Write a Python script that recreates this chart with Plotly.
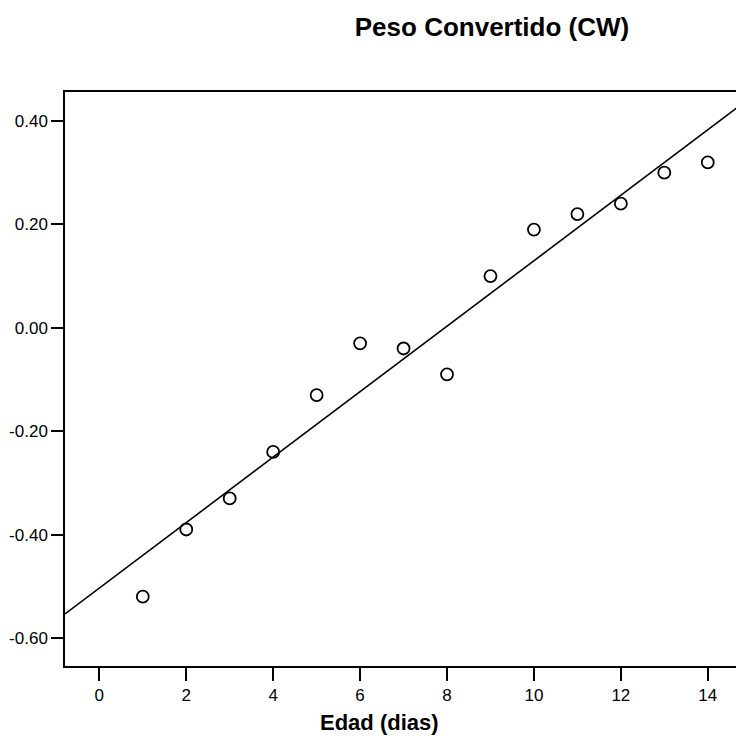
import numpy as np
import plotly.graph_objects as go

edad = [1, 2, 3, 4, 5, 6, 7, 8, 9, 10, 11, 12, 13, 14]
peso_cw = [-0.52, -0.39, -0.33, -0.24, -0.13, -0.03, -0.04, -0.09, 0.10, 0.19, 0.22, 0.24, 0.30, 0.32]
x_ticks = [0, 2, 4, 6, 8, 10, 12, 14]
y_ticks = [-0.60, -0.40, -0.20, 0.00, 0.20, 0.40]
y_tick_labels = ["-0.60", "-0.40", "-0.20", "0.00", "0.20", "0.40"]

# figure slightly wider than the window so the (cut-off) right frame edge stays hidden
W, H = 740, 747
ml, mr, mt, mb = 65, 0, 92, 747 - 666
pw, ph = W - ml - mr, H - mt - mb

x_range = [-0.79, -0.79 + pw / 43.46]
y_range = [-0.654, 0.456]

slope, intercept = np.polyfit(edad, peso_cw, 1)
fit_x = np.array(x_range)
fit_y = slope * fit_x + intercept

fig = go.Figure()
fig.add_trace(go.Scatter(
    x=fit_x, y=fit_y, mode="lines",
    line=dict(color="black", width=1.6),
    hoverinfo="skip", showlegend=False,
))
fig.add_trace(go.Scatter(
    x=edad, y=peso_cw, mode="markers",
    marker=dict(symbol="circle-open", size=12, color="black", line=dict(width=1.8, color="black")),
    showlegend=False,
))

font = "Liberation Sans, Arial, sans-serif"
fig.update_layout(
    width=W, height=H,
    margin=dict(l=ml, r=mr, t=mt, b=mb, autoexpand=False),
    paper_bgcolor="white", plot_bgcolor="white",
    font=dict(family=font, color="black", size=17),
    title=dict(text="<b>Peso Convertido (CW)</b>", xref="container", yref="container",
               x=492 / W, y=1 - 27 / H, xanchor="center", yanchor="middle",
               font=dict(family=font, size=26, color="black")),
    xaxis=dict(range=x_range, tickvals=x_ticks, ticks="outside", ticklen=13, tickwidth=2,
               tickcolor="black", showline=True, linecolor="black", linewidth=1.5, mirror=True,
               showgrid=False, zeroline=False, automargin=False,
               tickfont=dict(size=17, family=font)),
    yaxis=dict(range=y_range, tickvals=y_ticks, ticktext=y_tick_labels, ticks="outside", ticklen=12,
               tickwidth=2, tickcolor="black", showline=True, linecolor="black", linewidth=1.5,
               mirror=False, showgrid=False, zeroline=False, automargin=False,
               tickfont=dict(size=17, family=font)),
    annotations=[dict(text="<b>Edad (dias)</b>", xref="paper", yref="paper",
                      x=(379 - ml) / pw, y=(666 - 722) / ph,
                      xanchor="center", yanchor="middle", showarrow=False,
                      font=dict(family=font, size=22, color="black"))],
)

fig.write_html(
    "out.html",
    config={"displayModeBar": False},
    post_script="document.body.style.margin='0';document.body.style.overflow='hidden';",
)
